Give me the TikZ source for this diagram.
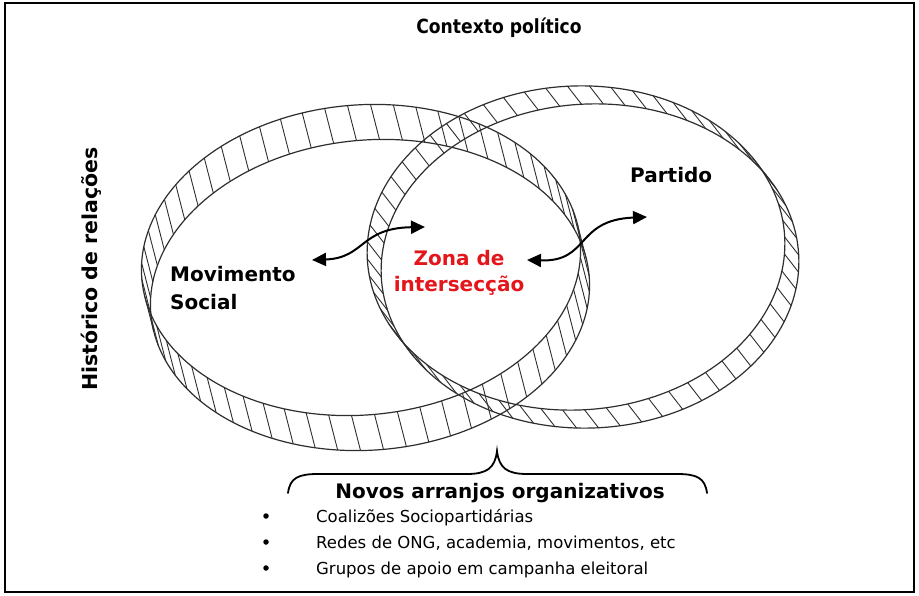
\documentclass[tikz,border=0pt]{standalone}
\usepackage{fontspec}
\setmainfont{DejaVu Sans}
\newfontfamily\condfont{DejaVu Sans}[FakeStretch=0.88]
\usetikzlibrary{arrows.meta}
\definecolor{ringcol}{HTML}{2E2E2E}
\definecolor{zonered}{HTML}{E3161B}
\tikzset{
  ringline/.style={draw=ringcol, line width=1.2pt},
  hatchline/.style={draw=ringcol, line width=0.9pt},
  framebox/.style={draw=black, line width=2pt},
  boldlbl/.style={font=\fontsize{20}{24}\selectfont\bfseries, inner sep=0pt, text=black},
  sidelbl/.style={font=\fontsize{20.5}{24}\selectfont\bfseries, inner sep=0pt, text=black},
  zonalbl/.style={font=\fontsize{20}{24}\selectfont\bfseries, inner sep=0pt, text=zonered},
  titlelbl/.style={font=\fontsize{19.5}{23}\selectfont\condfont\bfseries, inner sep=0pt},
  itemlbl/.style={font=\fontsize{16.5}{20}\selectfont, inner sep=0pt},
  bulletdot/.style={circle, fill=black, inner sep=0pt, minimum size=5.5pt},
  relarrow/.style={line width=2pt, {Triangle[length=14pt,width=13pt]}-{Triangle[length=14pt,width=13pt]}},
  bracestyle/.style={line width=1.8pt, line cap=round}
}
\newcommand{\hatchring}[7]{%
  \draw[ringline] plot[domain=0:360,samples=181,variable=\t]
    ({#1+#3*cos(\t)*cos(#5)-#4*sin(\t)*sin(#5)},{#2+#3*cos(\t)*sin(#5)+#4*sin(\t)*cos(#5)}) -- cycle;
  \draw[ringline] plot[domain=0:360,samples=181,variable=\t]
    ({#1+#6+#3*cos(\t)*cos(#5)-#4*sin(\t)*sin(#5)},{#2+#7+#3*cos(\t)*sin(#5)+#4*sin(\t)*cos(#5)}) -- cycle;
  \foreach \t in {0,6,...,354}{
    \draw[hatchline] ({#1+#3*cos(\t)*cos(#5)-#4*sin(\t)*sin(#5)},{#2+#3*cos(\t)*sin(#5)+#4*sin(\t)*cos(#5)}) -- ++(#6,#7);
  }%
}
\begin{document}
\begin{tikzpicture}[x=1pt,y=-1pt]
\useasboundingbox (0,0) rectangle (919,596);
\draw[framebox] (5,3) rectangle (914,592);

% rings
\hatchring{361}{260}{220}{155}{-5}{9}{35}
\hatchring{576}{248}{209}{162}{-3}{14}{18}

% labels
\node[titlelbl] (title) at (499,28) {Contexto político};
\node[sidelbl, rotate=90] (hist) at (91,269) {Histórico de relações};
\node[boldlbl, anchor=base west] (mov) at (170,282) {Movimento};
\node[boldlbl, anchor=base west] (soc) at (170,309) {Social};
\node[boldlbl, anchor=base west] (part) at (630,183) {Partido};
\node[zonalbl, anchor=base] (zona1) at (459,266) {Zona de};
\node[zonalbl, anchor=base] (zona2) at (459,291) {intersecção};

% arrows
\coordinate (la) at (312,260);
\coordinate (lb) at (425,227);
\coordinate (ra) at (527,260);
\coordinate (rb) at (647,217);
\draw[relarrow] (la) .. controls (365,258) and (360,228) .. (lb);
\draw[relarrow] (ra) .. controls (590,262) and (575,220) .. (rb);

% brace
\coordinate (bl) at (288,493);
\coordinate (bt) at (497,451);
\coordinate (br) at (707,493);
\draw[bracestyle] (bl) .. controls (290,478) and (298,474) .. (318,474) -- (467,474)
  .. controls (487,474) and (495,468) .. (bt)
  .. controls (499,468) and (507,474) .. (527,474) -- (677,474)
  .. controls (697,474) and (705,478) .. (br);

\node[boldlbl, anchor=base] (novos) at (500,498) {Novos arranjos organizativos};

% list
\node[bulletdot] (b1) at (266,516) {};
\node[bulletdot] (b2) at (266,542) {};
\node[bulletdot] (b3) at (266,568) {};
\node[itemlbl, anchor=base west] (i1) at (316,522) {Coalizões Sociopartidárias};
\node[itemlbl, anchor=base west] (i2) at (316,548) {Redes de ONG, academia, movimentos, etc};
\node[itemlbl, anchor=base west] (i3) at (316,574) {Grupos de apoio em campanha eleitoral};
\end{tikzpicture}
\end{document}
